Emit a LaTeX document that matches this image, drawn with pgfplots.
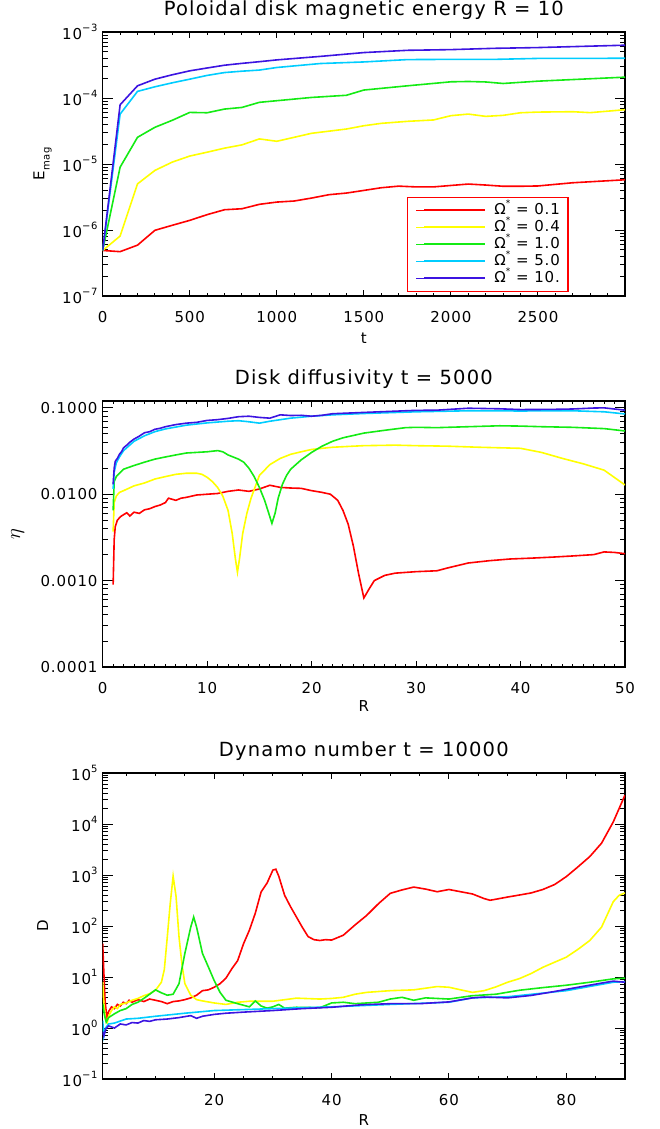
\documentclass[border=0pt]{standalone}
\usepackage{fontspec}
\setmainfont{DejaVu Sans}[LetterSpace=6]
\usepackage{pgfplots}
\pgfplotsset{compat=1.18}
\definecolor{cR}{RGB}{255,0,0}
\definecolor{cY}{RGB}{255,255,0}
\definecolor{cG}{RGB}{20,235,20}
\definecolor{cC}{RGB}{0,205,255}
\definecolor{cB}{RGB}{60,20,225}
\newcommand\ten[1]{10\raisebox{0.55em}{\fontsize{10}{10}\selectfont #1}}
\newcommand\om{Ω\raisebox{0.5em}{\fontsize{9}{9}\selectfont *}}
\pgfplotsset{
 idl/.style={scale only axis, width=522.3pt, anchor=north west,
   axis line style={line width=1.2pt}, tick style={black, line width=1pt},
   tick align=inside,
   major tick length=10.4pt, minor tick length=5.2pt,
   xtick style={/pgfplots/major tick length=6pt, /pgfplots/minor tick length=3pt},
   ticklabel style={font=\fontsize{15}{15}\selectfont},
   label style={font=\fontsize{15}{15}\selectfont},
   title style={font=\fontsize{19.5}{19.5}\selectfont, anchor=base, yshift=11pt},
   xticklabel style={anchor=center, yshift=-21pt, inner sep=0pt},
   yticklabel style={anchor=east, inner sep=0pt, xshift=-5pt},
   every axis plot/.append style={line width=1.6pt},
   /pgf/number format/assume math mode=true,
 }
}
\begin{document}
\begin{tikzpicture}
\path[use as bounding box] (0,0) rectangle (659pt,-1129pt);
% ---------------- Panel 1
\begin{axis}[idl, at={(102.7pt,-32pt)}, height=264pt,
  ymode=log, xmin=0, xmax=3000, ymin=1e-7, ymax=1e-3,
  xtick={0,500,1000,1500,2000,2500}, xticklabels={0,500,1000,1500,2000,2500},
  minor xtick={100,200,300,400,600,700,800,900,1100,1200,1300,1400,1600,1700,1800,1900,2100,2200,2300,2400,2600,2700,2800,2900},
  ytick={1e-7,1e-6,1e-5,1e-4,1e-3},
  yticklabels={\ten{−7},\ten{−6},\ten{−5},\ten{−4},\ten{−3}},
  minor ytick={2e-7,3e-7,4e-7,5e-7,6e-7,7e-7,8e-7,9e-7,2e-6,3e-6,4e-6,5e-6,6e-6,7e-6,8e-6,9e-6,2e-5,3e-5,4e-5,5e-5,6e-5,7e-5,8e-5,9e-5,2e-4,3e-4,4e-4,5e-4,6e-4,7e-4,8e-4,9e-4},
  title={Poloidal disk magnetic energy R\ =\ 10},
  xlabel={t}, xlabel style={at={(axis description cs:0.5,-0.159)}, anchor=center},
  ylabel={E\raisebox{-0.35em}{\fontsize{10}{10}\selectfont mag}},
  ylabel style={at={(axis description cs:-0.115,0.5)}, anchor=center},
  legend style={at={(0.5826,0.015)}, anchor=south west, draw=cR, line width=1.3pt, fill=white,
    inner xsep=8pt, inner ysep=6pt, row sep=3pt, column sep=8pt,
    nodes={inner sep=0pt, text height=11pt, text depth=3pt, font=\fontsize{15}{15}\selectfont}},
  legend cell align=left,
  legend image code/.code={\path (0pt,0pt) -- (8pt,0pt); \draw[#1, line width=2pt] (8pt,0pt) -- (69pt,0pt);},
]
\addplot[cR] coordinates {(0,4.9e-7)(100,4.7e-7)(200,5.9e-7)(300,9.9e-7)(400,1.18e-6)(500,1.4e-6)(600,1.71e-6)(700,2.03e-6)(800,2.1e-6)(900,2.45e-6)(1000,2.65e-6)(1100,2.75e-6)(1200,3.05e-6)(1300,3.43e-6)(1400,3.63e-6)(1500,3.98e-6)(1600,4.37e-6)(1700,4.62e-6)(1800,4.5e-6)(1900,4.5e-6)(2000,4.73e-6)(2100,4.97e-6)(2200,4.8e-6)(2300,4.6e-6)(2400,4.6e-6)(2500,4.65e-6)(2700,5.2e-6)(3000,5.77e-6)};
\addlegendentry{\om\ =\ 0.1}
\addplot[cY] coordinates {(0,4.9e-7)(100,8.1e-7)(200,5.0e-6)(300,8.0e-6)(400,1.07e-5)(500,1.32e-5)(600,1.51e-5)(700,1.74e-5)(800,1.95e-5)(900,2.4e-5)(1000,2.21e-5)(1100,2.54e-5)(1200,2.92e-5)(1400,3.39e-5)(1500,3.8e-5)(1600,4.13e-5)(1750,4.43e-5)(1900,4.65e-5)(2000,5.4e-5)(2100,5.71e-5)(2200,5.27e-5)(2300,5.46e-5)(2400,5.98e-5)(2500,6.12e-5)(2700,6.2e-5)(2800,6.0e-5)(3000,6.65e-5)};
\addlegendentry{\om\ =\ 0.4}
\addplot[cG] coordinates {(0,4.9e-7)(100,8.95e-6)(200,2.54e-5)(300,3.6e-5)(400,4.6e-5)(500,6.05e-5)(600,5.98e-5)(700,6.8e-5)(800,7.2e-5)(900,8.6e-5)(1000,9.1e-5)(1200,1.02e-4)(1400,1.1e-4)(1500,1.32e-4)(1750,1.53e-4)(2000,1.76e-4)(2100,1.78e-4)(2200,1.75e-4)(2300,1.66e-4)(2500,1.8e-4)(3000,2.07e-4)};
\addlegendentry{\om\ =\ 1.0}
\addplot[cC] coordinates {(0,4.9e-7)(100,5.7e-5)(200,1.26e-4)(300,1.48e-4)(400,1.7e-4)(500,1.93e-4)(600,2.2e-4)(700,2.43e-4)(800,2.55e-4)(900,2.65e-4)(1000,2.9e-4)(1250,3.33e-4)(1500,3.52e-4)(1750,3.82e-4)(2000,3.85e-4)(2250,3.85e-4)(2500,3.98e-4)(3000,4.0e-4)};
\addlegendentry{\om\ =\ 5.0}
\addplot[cB] coordinates {(0,4.9e-7)(100,7.9e-5)(200,1.53e-4)(300,1.93e-4)(400,2.25e-4)(500,2.58e-4)(600,2.85e-4)(700,3.14e-4)(800,3.35e-4)(900,3.55e-4)(1000,3.78e-4)(1250,4.27e-4)(1500,4.88e-4)(1750,5.28e-4)(2000,5.41e-4)(2250,5.66e-4)(2500,5.81e-4)(3000,6.31e-4)};
\addlegendentry{\om\ =\ 10.}
\end{axis}
% ---------------- Panel 2
\begin{axis}[idl, at={(102.7pt,-401pt)}, height=266pt,
  ymode=log, xmin=0, xmax=50, ymin=1e-4, ymax=0.12,
  xtick={0,10,20,30,40,50}, xticklabels={0,10,20,30,40,50},
  minor xtick={1,2,3,4,5,6,7,8,9,11,12,13,14,15,16,17,18,19,21,22,23,24,25,26,27,28,29,31,32,33,34,35,36,37,38,39,41,42,43,44,45,46,47,48,49},
  ytick={1e-4,1e-3,1e-2,1e-1},
  yticklabels={0.0001,0.0010,0.0100,0.1000},
  minor ytick={2e-4,3e-4,4e-4,5e-4,6e-4,7e-4,8e-4,9e-4,0.002,0.003,0.004,0.005,0.006,0.007,0.008,0.009,0.02,0.03,0.04,0.05,0.06,0.07,0.08,0.09},
  title={Disk diffusivity t\ =\ 5000},
  xlabel={R}, xlabel style={at={(axis description cs:0.5,-0.147)}, anchor=center},
  ylabel={\fontsize{21}{21}\selectfont$\eta$},
  ylabel style={at={(axis description cs:-0.163,0.5)}, anchor=center},
]
\addplot[cR] coordinates {(1,0.0009)(1.1,0.003)(1.2,0.0042)(1.4,0.005)(1.7,0.0055)(2,0.0058)(2.3,0.0061)(2.6,0.0056)(3,0.0062)(3.5,0.006)(4,0.0066)(4.5,0.0068)(5,0.0072)(5.5,0.0075)(6,0.008)(6.3,0.009)(7,0.0085)(7.5,0.009)(8,0.0092)(9,0.0098)(10,0.01)(11,0.0102)(12,0.0108)(13,0.0112)(14,0.0108)(15,0.0115)(16,0.0127)(17,0.012)(18,0.0118)(19,0.0117)(20,0.011)(21,0.0105)(21.8,0.01)(22.5,0.0085)(23,0.0065)(23.5,0.0045)(24,0.0025)(24.5,0.0012)(25,0.00063)(25.5,0.0008)(26,0.001)(27,0.00115)(28,0.00122)(30,0.00127)(32,0.0013)(33,0.0014)(35,0.0016)(37,0.0017)(39,0.00178)(41,0.00182)(43,0.00187)(45,0.00193)(47,0.002)(48,0.00215)(49,0.00212)(50,0.00205)};
\addplot[cY] coordinates {(1,0.0037)(1.1,0.008)(1.3,0.0095)(1.6,0.0105)(2,0.011)(3,0.0125)(4,0.0135)(5,0.015)(6,0.016)(7,0.017)(8,0.0175)(9,0.0175)(9.5,0.017)(10,0.0157)(10.5,0.014)(11,0.012)(11.5,0.0095)(12,0.0065)(12.4,0.0035)(12.7,0.0018)(12.9,0.00125)(13.1,0.0018)(13.4,0.0035)(13.8,0.006)(14.2,0.009)(15,0.0165)(16,0.022)(17,0.026)(18,0.029)(19,0.031)(20,0.033)(22,0.035)(25,0.0365)(28,0.037)(30,0.0365)(33,0.036)(36,0.035)(38,0.0345)(40,0.034)(42,0.0305)(44,0.026)(46,0.0225)(48,0.019)(50,0.0128)};
\addplot[cG] coordinates {(1,0.0065)(1.1,0.014)(1.3,0.016)(1.6,0.0175)(2,0.0195)(3,0.0215)(4,0.0235)(5,0.0255)(6,0.027)(7,0.0285)(8,0.03)(9,0.0305)(10,0.031)(11,0.032)(11.5,0.031)(12,0.0285)(13,0.0255)(13.5,0.0235)(14,0.02)(14.5,0.016)(15,0.012)(15.5,0.0085)(15.9,0.006)(16.2,0.0046)(16.5,0.006)(16.8,0.009)(17.2,0.013)(17.6,0.0165)(18,0.0195)(19,0.025)(20,0.0305)(21,0.036)(22,0.041)(23,0.045)(25,0.051)(27,0.055)(29,0.059)(30,0.0595)(32,0.059)(35,0.0605)(38,0.062)(40,0.0615)(42,0.0605)(45,0.0595)(48,0.0575)(50,0.054)};
\addplot[cC] coordinates {(1,0.0115)(1.1,0.018)(1.3,0.023)(1.6,0.027)(2,0.032)(3,0.041)(4,0.0475)(5,0.053)(6,0.057)(8,0.063)(10,0.067)(12,0.07)(13,0.071)(14,0.069)(15,0.0665)(16,0.07)(18,0.076)(20,0.08)(22,0.083)(25,0.086)(30,0.09)(35,0.0925)(40,0.092)(45,0.0925)(48,0.09)(50,0.085)};
\addplot[cB] coordinates {(1,0.013)(1.1,0.02)(1.2,0.024)(1.4,0.026)(1.6,0.029)(1.8,0.031)(2,0.0345)(2.3,0.037)(2.6,0.04)(3,0.0435)(3.5,0.047)(4,0.0515)(4.5,0.053)(5,0.0565)(5.5,0.058)(6,0.0605)(7,0.064)(8,0.0665)(9,0.068)(10,0.0715)(11,0.073)(12,0.0755)(13,0.079)(14,0.08)(15,0.0775)(16,0.076)(17,0.083)(18,0.0815)(19,0.082)(20,0.08)(21,0.082)(22,0.0855)(25,0.0885)(28,0.0915)(30,0.0935)(32,0.094)(35,0.099)(38,0.0975)(40,0.0955)(43,0.096)(45,0.097)(47,0.0995)(48,0.1)(50,0.094)};
\end{axis}
% ---------------- Panel 3
\begin{axis}[idl, at={(102.7pt,-773pt)}, height=306pt,
  ymode=log, xmin=1, xmax=90, ymin=0.1, ymax=1e5,
  xtick={20,40,60,80}, xticklabels={20,40,60,80},
  minor xtick={5,10,15,25,30,35,45,50,55,65,70,75,85},
  ytick={0.1,1,10,100,1000,10000,100000},
  yticklabels={\ten{−1},\ten{0},\ten{1},\ten{2},\ten{3},\ten{4},\ten{5}},
  minor ytick={0.2,0.3,0.4,0.5,0.6,0.7,0.8,0.9,2,3,4,5,6,7,8,9,20,30,40,50,60,70,80,90,200,300,400,500,600,700,800,900,2000,3000,4000,5000,6000,7000,8000,9000,20000,30000,40000,50000,60000,70000,80000,90000},
  title={Dynamo number t\ =\ 10000},
  xlabel={R}, xlabel style={at={(axis description cs:0.5,-0.134)}, anchor=center},
  ylabel={D},
  ylabel style={at={(axis description cs:-0.115,0.5)}, anchor=center},
]
\addplot[cR] coordinates {(1,45)(1.2,12)(1.4,3.5)(1.7,1.6)(2,2.1)(2.5,2.6)(3,2.4)(3.5,2.9)(4,2.7)(4.5,3.2)(5,3.0)(5.5,3.5)(6,3.2)(7,3.6)(8,3.3)(9,3.7)(10,3.5)(11,3.3)(12,3.0)(13,3.3)(14,3.4)(15,3.6)(16,3.9)(17,4.4)(18,5.4)(19,5.6)(20,6.3)(21,7.4)(22,9.5)(23,14.5)(24,21)(25,45)(26,83)(27,178)(28,468)(29,692)(30,1250)(30.5,1300)(31,950)(32,400)(33,240)(34,151)(35,95)(36,62)(37,54)(38,52)(39,54)(40,53)(42,66)(44,105)(46,162)(48,275)(50,437)(52,510)(54,580)(56,530)(58,470)(60,520)(62,470)(64,425)(66,345)(67,320)(68,335)(70,370)(72,405)(74,445)(76,520)(78,650)(80,930)(82,1450)(84,2300)(86,4200)(88,11000)(90,37000)};
\addplot[cY] coordinates {(1,8)(1.2,3.0)(1.5,1.5)(1.8,1.3)(2,1.7)(2.5,2.2)(3,2.6)(3.5,2.4)(4,2.9)(5,3.1)(6,3.5)(7,3.8)(8,4.3)(9,4.7)(10,5.5)(11,7.9)(11.5,14)(12,60)(12.5,270)(13,950)(13.5,380)(14,62)(14.5,18)(15,7.4)(16,4.4)(17,3.6)(18,3.4)(20,3.1)(22,2.9)(24,3.2)(26,3.35)(30,3.35)(34,3.85)(38,3.7)(40,3.8)(42,4.0)(44,4.6)(46,5.0)(50,5.4)(54,5.6)(58,6.5)(60,6.3)(62,5.6)(64,5.0)(66,5.4)(68,6.4)(70,7.9)(72,9.3)(74,11.7)(76,15.5)(78,19.5)(80,24.5)(82,35)(84,52)(86,95)(88,300)(89,400)(90,445)};
\addplot[cG] coordinates {(1,3.0)(1.3,1.8)(1.6,1.3)(2,1.6)(3,1.9)(4,2.2)(5,2.4)(6,2.9)(7,3.2)(8,3.8)(9,4.6)(10,5.6)(11,4.9)(12,4.4)(13,4.6)(14,7.4)(15,29)(16,95)(16.5,150)(17,95)(18,29)(19,15.8)(20,8.5)(21,5.0)(22,3.5)(24,3.0)(26,2.6)(27,3.4)(28,2.7)(29,2.45)(30,2.6)(31,2.9)(32,2.45)(34,2.55)(38,2.5)(40,3.1)(42,3.2)(44,3.0)(48,3.2)(50,3.7)(52,4.0)(54,3.5)(56,3.9)(60,3.7)(64,4.3)(68,4.6)(72,5.5)(76,6.2)(80,6.9)(84,7.9)(88,9.2)(90,9.5)};
\addplot[cC] coordinates {(1,1.4)(1.2,0.7)(1.5,1.0)(2,1.2)(3,1.25)(5,1.5)(7,1.55)(10,1.7)(15,1.95)(20,2.2)(30,2.4)(40,2.6)(50,2.9)(60,3.2)(64,3.9)(70,4.1)(80,5.4)(88,7.9)(90,8.1)};
\addplot[cB] coordinates {(1,0.85)(1.2,0.7)(1.5,0.95)(2,1.1)(3,1.0)(4,1.2)(5,1.15)(6,1.28)(7,1.25)(8,1.4)(9,1.35)(10,1.45)(12,1.5)(14,1.6)(16,1.75)(17,1.55)(18,1.7)(20,1.85)(22,1.95)(25,2.05)(30,2.2)(35,2.4)(40,2.55)(45,2.85)(50,3.0)(55,3.0)(60,3.25)(64,3.9)(66,4.05)(70,3.9)(74,4.35)(78,5.2)(82,6.3)(86,7.6)(88,8.3)(90,7.9)};
\end{axis}
\end{tikzpicture}
\end{document}
